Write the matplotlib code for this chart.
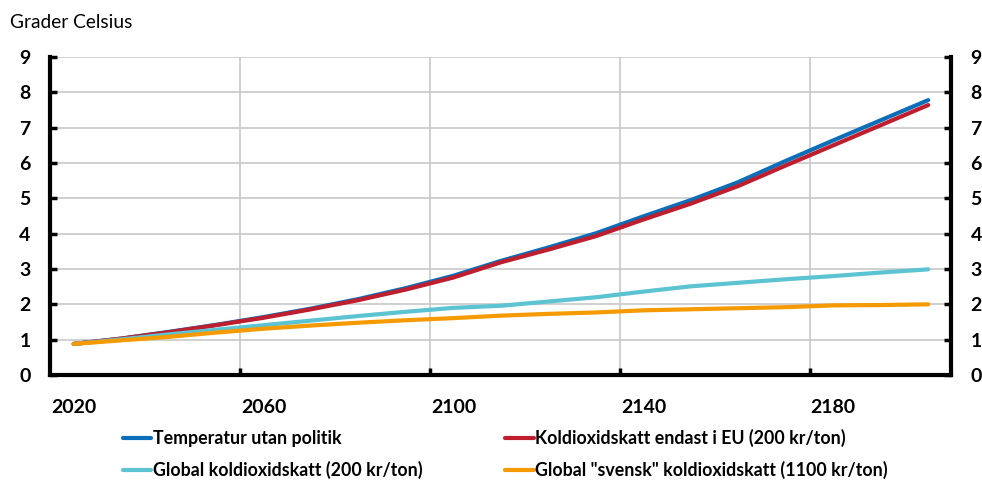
import matplotlib
matplotlib.use("Agg")
import matplotlib.pyplot as plt
from matplotlib.ticker import FixedLocator

plt.rcParams['font.family'] = ['Lato', 'DejaVu Sans']

years = [2020, 2030, 2040, 2050, 2060, 2070, 2080, 2090, 2100, 2110,
         2120, 2130, 2140, 2150, 2160, 2170, 2180, 2190, 2200]
temp_no_policy = [0.88, 1.03, 1.22, 1.42, 1.64, 1.88, 2.15, 2.46, 2.81, 3.23,
                  3.61, 4.01, 4.49, 4.95, 5.46, 6.06, 6.64, 7.21, 7.78]
eu_tax = [0.88, 1.03, 1.21, 1.41, 1.62, 1.86, 2.12, 2.42, 2.76, 3.19,
          3.55, 3.93, 4.40, 4.85, 5.35, 5.93, 6.50, 7.07, 7.64]
global_tax = [0.88, 1.01, 1.15, 1.28, 1.41, 1.54, 1.67, 1.79, 1.90, 1.96,
              2.08, 2.20, 2.36, 2.51, 2.61, 2.71, 2.80, 2.90, 2.99]
global_swedish = [0.88, 0.98, 1.08, 1.20, 1.31, 1.40, 1.48, 1.55, 1.61, 1.68,
                  1.73, 1.77, 1.83, 1.86, 1.89, 1.92, 1.97, 1.98, 2.00]

labels = ["Temperatur utan politik",
          "Koldioxidskatt endast i EU (200 kr/ton)",
          "Global koldioxidskatt (200 kr/ton)",
          'Global "svensk" koldioxidskatt (1100 kr/ton)']
colors = ["#0A6EB8", "#BE1E2D", "#5BC3D1", "#F59A00"]

x_labels = [2020, 2060, 2100, 2140, 2180]
x_grid = [2055, 2095, 2135, 2175]
y_ticks = list(range(0, 10))

fig = plt.figure(figsize=(9.82, 4.80), dpi=100)
ax = fig.add_axes([50/982, 105/480, 901/982, 318/480])

series = [temp_no_policy, eu_tax, global_tax, global_swedish]
handles = []
for vals, c, lab in zip(series, colors, labels):
    h, = ax.plot(years, vals, color=c, lw=3.0, solid_capstyle='round', label=lab, zorder=3)
    handles.append(h)

ax.set_xlim(2015, 2204.8)
ax.set_ylim(0, 9)

ax.set_xticks(x_labels)
ax.set_xticklabels([str(v) for v in x_labels], fontweight='bold', fontsize=14)
ax.xaxis.set_minor_locator(FixedLocator(x_grid))
ax.tick_params(axis='x', which='major', length=0, pad=17)
ax.tick_params(axis='x', which='minor', direction='in', length=5, width=2.5, color='black')

ax.set_yticks(y_ticks)
ax.set_yticklabels([str(v) for v in y_ticks], fontweight='bold', fontsize=14)
ax.tick_params(axis='y', which='major', direction='in', length=5, width=2.5,
               left=True, right=True, labelleft=True, labelright=True, pad=14)

ax.grid(True, axis='y', which='major', color='#C8C8C8', lw=1.2, zorder=0)
ax.grid(True, axis='x', which='minor', color='#C8C8C8', lw=1.2, zorder=0)
ax.grid(False, axis='x', which='major')

for s in ['left', 'bottom', 'right']:
    ax.spines[s].set_linewidth(3)
    ax.spines[s].set_color('black')
ax.spines['top'].set_visible(False)

fig.text(10/982, 1 - 22/480, "Grader Celsius", fontsize=13.8, va='center', ha='left')

order = [0, 2, 1, 3]
fig.legend([handles[i] for i in order], [labels[i] for i in order],
           ncol=2, loc='center left', bbox_to_anchor=(107/982, 1 - 454/480),
           frameon=False, prop={'weight': 'bold', 'size': 12.8},
           handlelength=1.6, handletextpad=0.1, columnspacing=4.63,
           labelspacing=0.8)

fig.savefig("out.png", dpi=100)
